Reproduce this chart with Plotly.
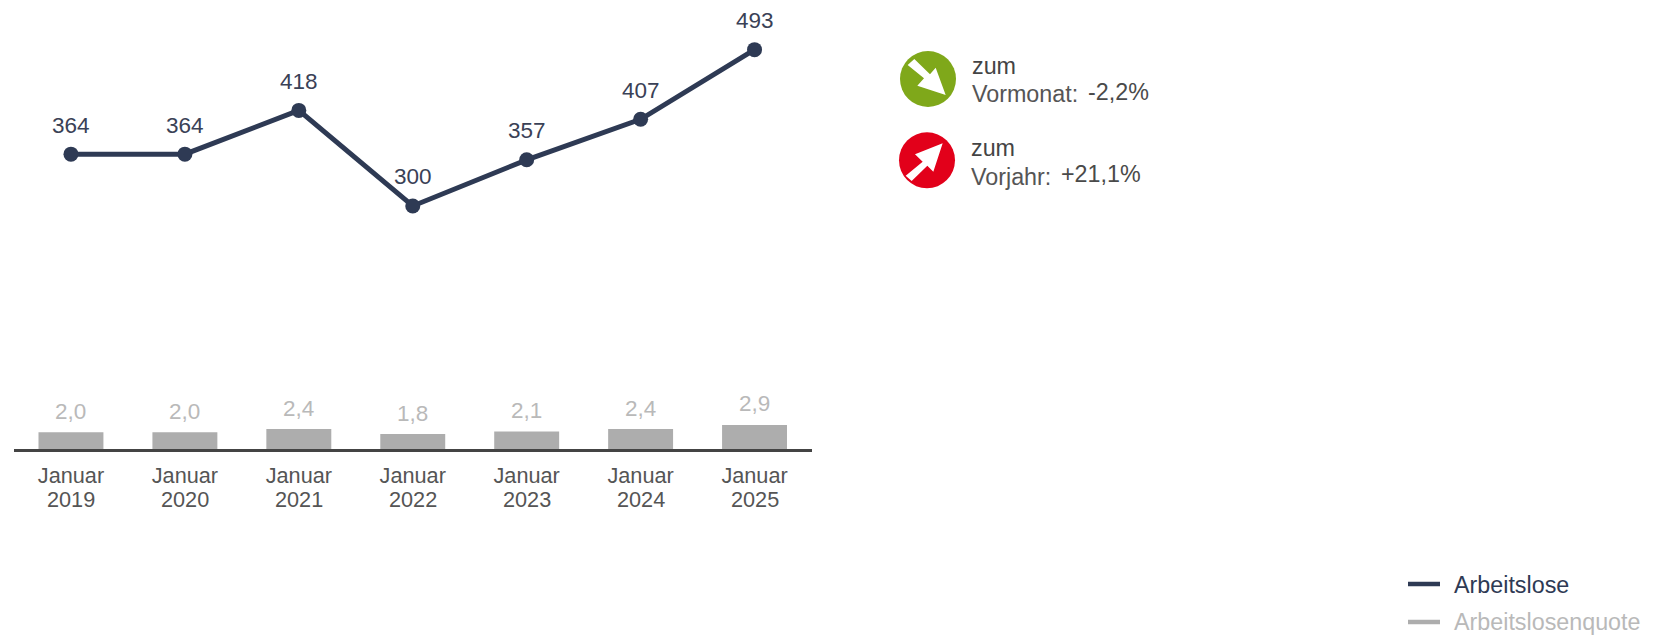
import plotly.graph_objects as go

W, H = 1654, 637
months = ["Januar"] * 7
years = ["2019", "2020", "2021", "2022", "2023", "2024", "2025"]
arbeitslose = [364, 364, 418, 300, 357, 407, 493]
quote = [2.0, 2.0, 2.4, 1.8, 2.1, 2.4, 2.9]
quote_labels = ["2,0", "2,0", "2,4", "1,8", "2,1", "2,4", "2,9"]
x = list(range(len(years)))

NAVY = "#2e3a54"
GREY = "#adadad"
FONT = "Liberation Sans, Arial, sans-serif"

def px(v):
    return v / W

def py(v):
    return 1 - v / H

fig = go.Figure()
fig.add_trace(go.Bar(x=x, y=quote, yaxis="y2", width=0.57, marker=dict(color=GREY, line_width=0),
                     name="Arbeitslosenquote", showlegend=False, hoverinfo="skip"))
fig.add_trace(go.Scatter(x=x, y=arbeitslose, mode="lines+markers", name="Arbeitslose",
                         showlegend=False, cliponaxis=False,
                         line=dict(color=NAVY, width=5), marker=dict(color=NAVY, size=15)))

ann = []
for i, v in enumerate(arbeitslose):
    ann.append(dict(x=i, y=v, xref="x", yref="y", text=str(v), showarrow=False, yshift=29,
                    font=dict(size=22.5, color="#3a4156", family=FONT)))
for i, v in enumerate(quote):
    ann.append(dict(x=i, y=v, xref="x", yref="y2", text=quote_labels[i], showarrow=False, yshift=21,
                    font=dict(size=22.5, color="#b9b9b9", family=FONT)))
for i, yr in enumerate(years):
    ann.append(dict(x=i, y=py(499), xref="x", yref="paper", text=yr, showarrow=False, yanchor="middle",
                    font=dict(size=21.7, color="#555555", family=FONT)))

side_texts = [("zum", 970, 66, "#444444"), ("Vormonat:", 970, 94, "#555555"), ("-2,2%", 1086, 92, "#4a4a4a"),
              ("zum", 969, 148, "#444444"), ("Vorjahr:", 969, 177, "#555555"), ("+21,1%", 1059, 174, "#4a4a4a"),
              ("Arbeitslose", 1452, 585, NAVY), ("Arbeitslosenquote", 1452, 622, "#b9b9b9")]
for t, tx, ty, c in side_texts:
    ann.append(dict(x=px(tx), y=py(ty), xref="paper", yref="paper", text=t, showarrow=False,
                    xanchor="left", yanchor="middle", font=dict(size=23.3, color=c, family=FONT)))

def circle(cx, cy, r, color):
    return dict(type="circle", xref="paper", yref="paper", x0=px(cx - r), x1=px(cx + r),
                y0=py(cy + r), y1=py(cy - r), fillcolor=color, line_width=0, layer="above")

def arrow(points):
    pts = [(890 + a / 3, 45 + b / 3) for a, b in points]
    d = "M " + " L ".join(f"{px(a):.5f},{py(b):.5f}" for a, b in pts) + " Z"
    return dict(type="path", xref="paper", yref="paper", path=d, fillcolor="white", line_width=0, layer="above")

def key(y, color):
    return dict(type="line", xref="paper", yref="paper", x0=px(1408), x1=px(1440), y0=py(y), y1=py(y),
                line=dict(color=color, width=4.5))

shapes = [
    circle(928, 79, 28, "#7fa81a"),
    arrow([(53, 60), (73, 42), (120, 88), (137, 68), (167, 150), (82, 122), (102, 100)]),
    circle(927, 160.3, 28, "#e2001a"),
    arrow([(158, 295), (75, 328), (98, 350), (47, 392), (65, 408), (112, 362), (130, 380)]),
    key(584, NAVY),
    key(622, GREY),
]

fig.update_layout(
    width=W, height=H, autosize=False,
    margin=dict(l=0, r=0, t=0, b=0, autoexpand=False),
    paper_bgcolor="white", plot_bgcolor="white",
    font=dict(family=FONT),
    showlegend=False,
    xaxis=dict(domain=[px(14), px(811.5)], range=[-0.5, 6.5], tickmode="array", tickvals=x, ticktext=months,
               showgrid=False, zeroline=False, showline=True, linecolor="#444444", linewidth=2.5,
               ticks="outside", ticklen=5, tickcolor="rgba(0,0,0,0)",
               tickfont=dict(size=21.7, color="#555555", family=FONT), tickangle=0),
    yaxis=dict(domain=[py(449), 1], range=[0, 554.3], visible=False),
    yaxis2=dict(domain=[py(449), 1], range=[0, 54], overlaying="y", visible=False),
    annotations=ann, shapes=shapes,
)

fig.write_html("out.html", config={"displayModeBar": False},
               post_script="document.body.style.margin='0';document.body.style.overflow='hidden';")
